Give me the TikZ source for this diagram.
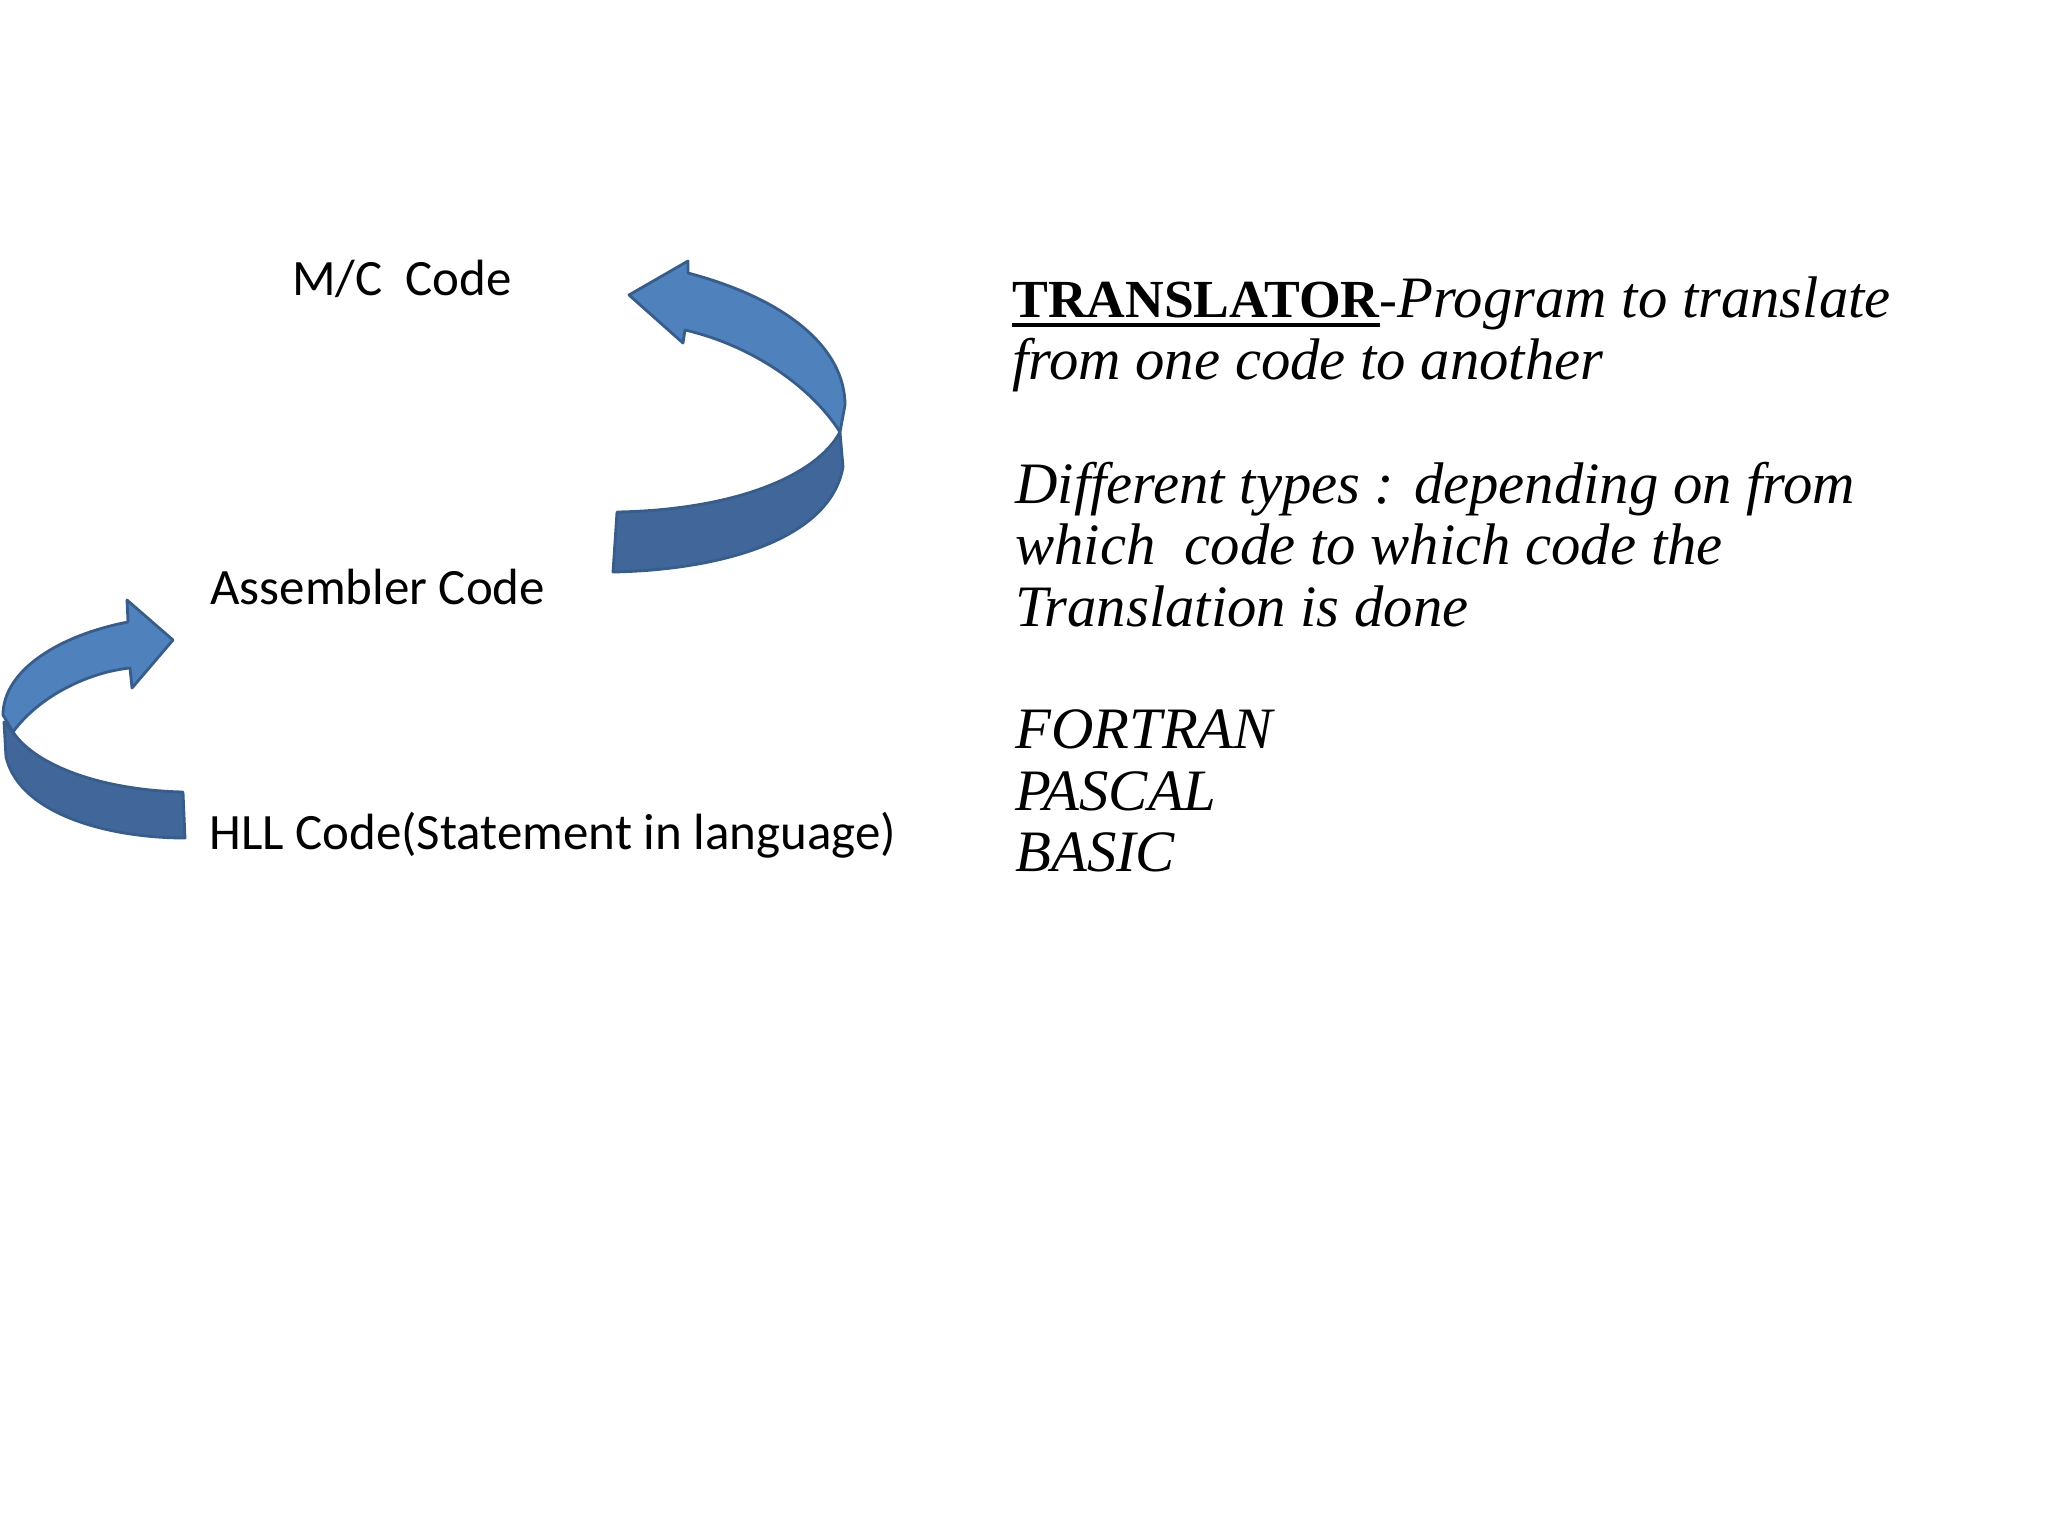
\documentclass[tikz,border=0pt]{standalone}
\usepackage{fontspec}
\setmainfont{Liberation Serif}
\newfontfamily\labsans{Carlito}
\newfontfamily\labserif{Liberation Serif}
\newcommand\myul[1]{\setbox0\hbox{#1}\rlap{\raisebox{-5.5pt}{\rule{\wd0}{2.2pt}}}\box0}
\definecolor{facelight}{HTML}{4F81BD}
\definecolor{facedark}{HTML}{41679A}
\definecolor{edgeblue}{HTML}{385D8A}
\tikzset{
  lbl/.style={anchor=base west, inner sep=0pt, font=\labsans\fontsize{29}{34}\selectfont},
  body/.style={anchor=base west, inner sep=0pt, font=\labserif\fontsize{33.4}{36}\selectfont\itshape},
  lightface/.style={fill=facelight, draw=edgeblue, line width=1.6pt, line join=round},
  darkface/.style={fill=facedark, draw=edgeblue, line width=1.6pt, line join=round}
}
\begin{document}
\begin{tikzpicture}[x=0.02cm,y=-0.02cm]
\useasboundingbox (0,0) rectangle (2048,1536);
\fill[white] (0,0) rectangle (2048,1536);
% labels
\node[lbl] (mc) at (292,295) {M/C\ \ Code};
\node[lbl] (asm) at (210,604) {Assembler Code};
\node[lbl] (hll) at (209,849) {HLL Code(Statement in language)};
% big curved arrow (Assembler -> M/C)
\draw[darkface] (840,432) -- (843,467) .. controls (830,540) and (720,570) .. (613,572) -- (617,512) .. controls (730,510) and (815,478) .. (840,432) -- cycle;
\draw[lightface] (629,295) -- (688,261) -- (688,273) .. controls (790,300) and (845,350) .. (845,405) -- (840,432) .. controls (810,385) and (750,345) .. (685,330) -- (683,343) -- cycle;
% small curved arrow (HLL -> Assembler)
\draw[darkface] (13,732) -- (4,722) -- (6,757) .. controls (20,815) and (110,838) .. (185,838) -- (183,792) .. controls (100,790) and (35,765) .. (13,732) -- cycle;
\draw[lightface] (173,640) -- (127,600) -- (128,622) .. controls (60,635) and (3,670) .. (3,715) -- (13,732) .. controls (40,695) and (90,672) .. (130,668) -- (132,688) -- cycle;
% right text
\node[body] (t1) at (1012,317) {{\upshape\bfseries\fontsize{30.5}{36}\selectfont\myul{TRANSLATOR}\mdseries-}Program to translate};
\node[body] (t2) at (1012,379) {from one code to another};
\node[body] (t3) at (1015,503) {Different types : depending on from};
\node[body] (t4) at (1015,564) {which\ \ code to which code the};
\node[body] (t5) at (1015,626) {Translation is done};
\node[body] (t6) at (1015,748) {FORTRAN};
\node[body] (t7) at (1015,810) {PASCAL};
\node[body] (t8) at (1015,871) {BASIC};
\end{tikzpicture}
\end{document}
